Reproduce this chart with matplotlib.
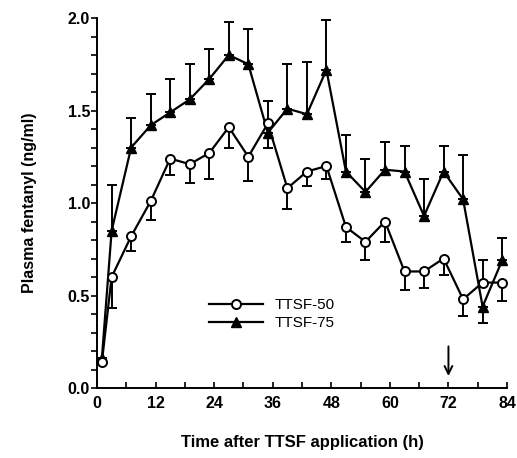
import matplotlib
matplotlib.use("Agg")
import matplotlib.pyplot as plt
from matplotlib.lines import Line2D
from matplotlib.ticker import MultipleLocator, FormatStrFormatter

plt.rcParams['font.family'] = ['Liberation Sans', 'DejaVu Sans']

time_h = [1, 3, 7, 11, 15, 19, 23, 27, 31, 35, 39, 43, 47, 51, 55, 59, 63, 67, 71, 75, 79, 83]
ttsf50 = [0.14, 0.60, 0.82, 1.01, 1.24, 1.21, 1.27, 1.41, 1.25, 1.43, 1.08, 1.17, 1.20,
          0.87, 0.79, 0.90, 0.63, 0.63, 0.70, 0.48, 0.57, 0.57]
err50_lo = [0.0, 0.17, 0.08, 0.10, 0.09, 0.10, 0.14, 0.11, 0.13, 0.13, 0.11, 0.08, 0.07,
            0.08, 0.10, 0.11, 0.10, 0.09, 0.09, 0.09, 0.0, 0.10]
err50_hi = [0.0] * 20 + [0.12, 0.0]
ttsf75 = [0.16, 0.85, 1.30, 1.42, 1.49, 1.56, 1.67, 1.80, 1.75, 1.38, 1.51, 1.48, 1.72,
          1.17, 1.06, 1.18, 1.17, 0.93, 1.17, 1.02, 0.44, 0.69]
err75_hi = [0.0, 0.25, 0.16, 0.17, 0.18, 0.19, 0.16, 0.18, 0.19, 0.17, 0.24, 0.28, 0.27,
            0.20, 0.18, 0.15, 0.14, 0.20, 0.14, 0.24, 0.0, 0.12]
err75_lo = [0.0] * 20 + [0.09, 0.0]
labels = ['TTSF-50', 'TTSF-75']
arrow_x = 72

fig = plt.figure(figsize=(5.17, 4.58), dpi=100)
ax = fig.add_axes([0.1876, 0.1528, 0.7931, 0.8079])

ax.errorbar(time_h, ttsf75, yerr=[err75_lo, err75_hi], color='black', lw=1.6,
            marker='^', ms=6.5, mfc='black', mec='black', capsize=3.5, elinewidth=1.4,
            capthick=1.4, zorder=3)
ax.errorbar(time_h, ttsf50, yerr=[err50_lo, err50_hi], color='black', lw=1.6,
            marker='o', ms=6.5, mfc='white', mec='black', mew=1.4, capsize=3.5,
            elinewidth=1.4, capthick=1.4, zorder=4)

ax.set_xlim(0, 84)
ax.set_ylim(0, 2.0)
ax.xaxis.set_major_locator(MultipleLocator(12))
ax.xaxis.set_minor_locator(MultipleLocator(6))
ax.yaxis.set_major_locator(MultipleLocator(0.5))
ax.yaxis.set_minor_locator(MultipleLocator(0.1))
ax.yaxis.set_major_formatter(FormatStrFormatter('%.1f'))
ax.spines['top'].set_visible(False)
ax.spines['right'].set_visible(False)
for s in ['left', 'bottom']:
    ax.spines[s].set_linewidth(1.4)
ax.tick_params(axis='x', which='both', direction='in', length=4, width=1.2,
               labelsize=11.5, pad=6)
ax.tick_params(axis='y', which='both', direction='out', length=4, width=1.2,
               labelsize=11.5, pad=1)
for lab in ax.get_xticklabels() + ax.get_yticklabels():
    lab.set_fontweight('bold')

ax.set_ylabel('Plasma fentanyl (ng/ml)', fontsize=11.5, fontweight='bold', labelpad=22)
ax.set_xlabel('Time after TTSF application (h)', fontsize=12, fontweight='bold', labelpad=17)

ax.annotate('', xy=(arrow_x, 0.05), xytext=(arrow_x, 0.24),
            arrowprops=dict(arrowstyle='->', color='black', lw=1.4,
                            mutation_scale=14))

handles = [
    Line2D([], [], color='black', lw=1.6, marker='o', ms=6.5, mfc='white',
           mec='black', mew=1.4),
    Line2D([], [], color='black', lw=1.6, marker='^', ms=6.5, mfc='black', mec='black'),
]
ax.legend(handles, labels, loc='upper left', bbox_to_anchor=(0.24, 0.28),
          frameon=False, fontsize=11, handlelength=3.5, handletextpad=0.8,
          labelspacing=0.25)

fig.savefig('out.png', dpi=100)
